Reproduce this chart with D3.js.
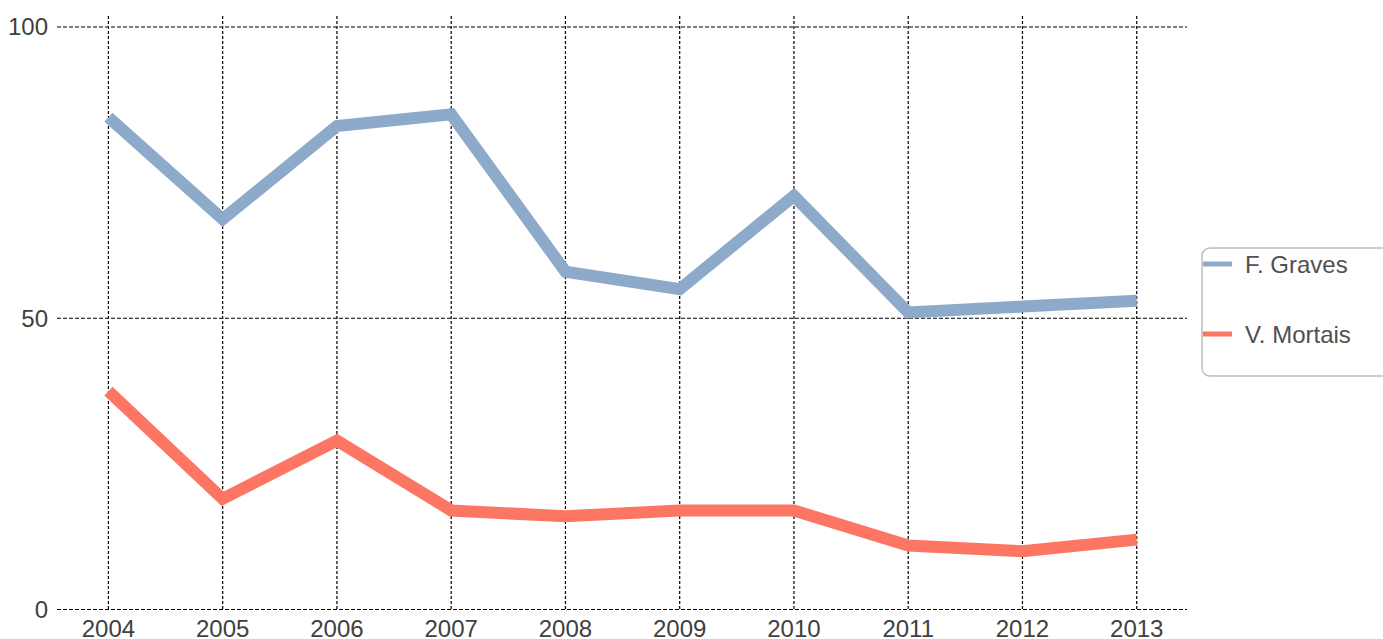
<!DOCTYPE html>
<html>
<head>
<meta charset="utf-8">
<script src="https://cdn.jsdelivr.net/npm/d3@7"></script>
<style>
  body { margin: 0; background: #fff; }
  svg text { font-family: "Liberation Sans", Arial, sans-serif; }
</style>
</head>
<body>
<div id="chart"></div>
<script>
// Data
const years = [2004, 2005, 2006, 2007, 2008, 2009, 2010, 2011, 2012, 2013];
const graves = [84.5, 67, 83, 85, 58, 55, 71, 51, 52, 53];
const mortais = [37.5, 19, 29, 17, 16, 17, 17, 11, 10, 12];
const yTicks = [0, 50, 100];
const seriesNames = ["F. Graves", "V. Mortais"];
const seriesColors = ["#8eaacb", "#fd7563"];

const W = 1383, H = 639;

const svg = d3.select("#chart")
  .append("svg")
  .attr("width", W)
  .attr("height", H);

const x = d3.scaleLinear()
  .domain([2003.55, 2013.44])
  .range([57, 1187]);

const y = d3.scaleLinear()
  .domain([0, 100])
  .range([609.5, 27]);

// Horizontal grid
svg.append("g")
  .selectAll("line")
  .data(yTicks)
  .enter().append("line")
  .attr("x1", x.range()[0])
  .attr("x2", x.range()[1])
  .attr("y1", d => y(d))
  .attr("y2", d => y(d))
  .attr("stroke", "#000")
  .attr("stroke-width", 1.2)
  .attr("stroke-dasharray", "4,2");

// Vertical grid
svg.append("g")
  .selectAll("line")
  .data(years)
  .enter().append("line")
  .attr("x1", d => x(d))
  .attr("x2", d => x(d))
  .attr("y1", y(101.9))
  .attr("y2", y(0))
  .attr("stroke", "#000")
  .attr("stroke-width", 1.2)
  .attr("stroke-dasharray", "3,2");

// Y tick labels
svg.append("g")
  .selectAll("text")
  .data(yTicks)
  .enter().append("text")
  .attr("x", 48)
  .attr("y", d => y(d))
  .attr("dy", "0.35em")
  .attr("text-anchor", "end")
  .attr("fill", "#404040")
  .style("font-size", "24px")
  .text(d => d);

// X tick labels
svg.append("g")
  .selectAll("text")
  .data(years)
  .enter().append("text")
  .attr("x", d => x(d))
  .attr("y", 637)
  .attr("text-anchor", "middle")
  .attr("fill", "#404040")
  .style("font-size", "24px")
  .text(d => d);

// Lines
const line = d3.line()
  .x((d, i) => x(years[i]))
  .y(d => y(d));

[graves, mortais].forEach((s, k) => {
  svg.append("path")
    .datum(s)
    .attr("d", line)
    .attr("fill", "none")
    .attr("stroke", seriesColors[k])
    .attr("stroke-width", 12)
    .attr("stroke-linejoin", "miter")
    .attr("stroke-linecap", "butt");
});

// Legend
const legend = svg.append("g");

legend.append("rect")
  .attr("x", 1202)
  .attr("y", 248)
  .attr("width", 200)
  .attr("height", 128)
  .attr("rx", 8)
  .attr("fill", "#fff")
  .attr("stroke", "#bdbdbd")
  .attr("stroke-width", 1.5);

const item = legend.selectAll(".item")
  .data(seriesNames)
  .enter().append("g")
  .attr("class", "item")
  .attr("transform", (d, i) => "translate(1203," + (264 + i * 70) + ")");

item.append("line")
  .attr("x1", 0)
  .attr("x2", 29)
  .attr("stroke", (d, i) => seriesColors[i])
  .attr("stroke-width", 5);

item.append("text")
  .attr("x", 42)
  .attr("y", 1)
  .attr("dy", "0.35em")
  .attr("fill", "#505050")
  .style("font-size", "24px")
  .text(d => d);
</script>
</body>
</html>
